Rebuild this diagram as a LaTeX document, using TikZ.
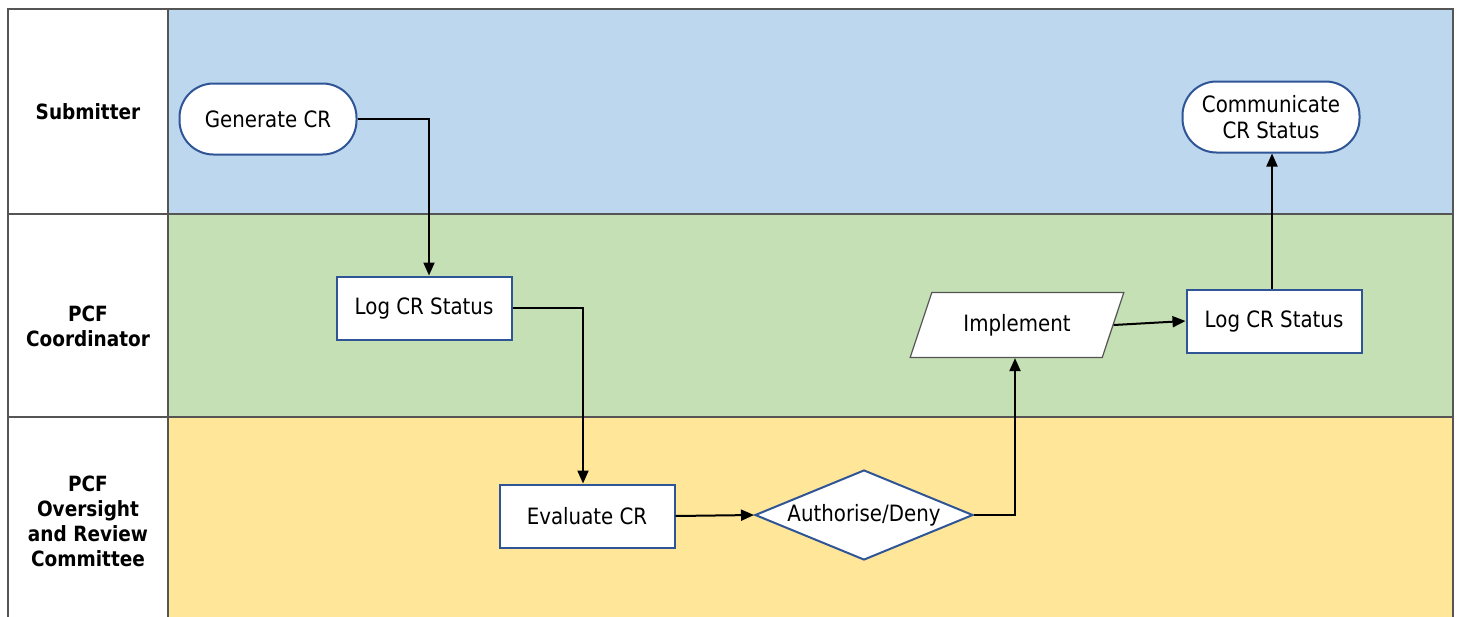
\documentclass[tikz,border=0pt]{standalone}
\usepackage{fontspec}
\setmainfont{DejaVu Sans}[FakeStretch=0.88]
\usetikzlibrary{shapes.geometric,shapes.misc,arrows.meta}
\definecolor{laneblue}{RGB}{189,215,238}
\definecolor{lanegreen}{RGB}{197,224,180}
\definecolor{laneyellow}{RGB}{255,230,153}
\definecolor{gridline}{RGB}{85,85,85}
\definecolor{boxline}{RGB}{47,85,151}
\tikzset{
  lanebox/.style={draw=gridline, line width=1.3pt},
  lanelabel/.style={font=\bfseries\fontsize{21}{25}\selectfont, align=center, text=black},
  proc/.style={draw=boxline, fill=white, line width=2pt, font=\fontsize{22.5}{26}\selectfont,
    minimum width=175, minimum height=63, inner sep=0pt},
  terminal/.style={proc, rounded corners=34pt, minimum width=177, minimum height=71, align=center},
  decision/.style={diamond, aspect=2.4, draw=boxline, fill=white, line width=2pt,
    font=\fontsize{22.5}{26}\selectfont, minimum width=218, minimum height=90, inner sep=0pt},
  io/.style={trapezium, trapezium left angle=58, trapezium right angle=122, trapezium stretches=true,
    draw=gridline, fill=white, line width=1.2pt, font=\fontsize{22.5}{26}\selectfont,
    minimum width=214, minimum height=65, inner sep=0pt},
  flow/.style={draw=black, line width=2pt, -{Triangle[length=13pt,width=11pt]}}
}
\begin{document}
\begin{tikzpicture}[x=1pt,y=-1pt]
\useasboundingbox (0,0) rectangle (1461,616);
% swim lanes
\fill[laneblue] (168,9) rectangle (1453,214);
\fill[lanegreen] (168,214) rectangle (1453,417);
\fill[laneyellow] (168,417) rectangle (1453,620);
\draw[lanebox] (8,620) -- (8,9) -- (1453,9) -- (1453,620);
\draw[lanebox] (168,9) -- (168,620);
\draw[lanebox] (8,214) -- (1453,214);
\draw[lanebox] (8,417) -- (1453,417);
% lane titles
\node[lanelabel] (l1) at (88,112) {Submitter};
\node[lanelabel] (l2) at (88,326) {PCF\\Coordinator};
\node[lanelabel] (l3) at (88,521) {PCF\\Oversight\\and Review\\Committee};
% process steps
\node[terminal] (gen) at (268,119) {Generate CR};
\node[terminal] (comm) at (1271,117) {Communicate\\CR Status};
\node[proc] (log1) at (424,308) {Log CR Status};
\node[proc] (eval) at (587,516) {Evaluate CR};
\node[decision] (auth) at (864,515) {Authorise/Deny};
\node[io] (impl) at (1017,325) {Implement};
\node[proc] (log2) at (1274,321) {Log CR Status};
% connectors
\draw[flow] (gen.east) -| ([xshift=5]log1.north);
\draw[flow] (log1.east) -| ([xshift=-4]eval.north);
\draw[flow] (eval.east) -- (auth.west);
\draw[flow] (auth.east) -| ([xshift=-2]impl.south);
\draw[flow] (impl.east) -- (log2.west);
\draw[flow] ([xshift=-2]log2.north) -- ([xshift=-2]log2.north |- comm.south);
\end{tikzpicture}
\end{document}
